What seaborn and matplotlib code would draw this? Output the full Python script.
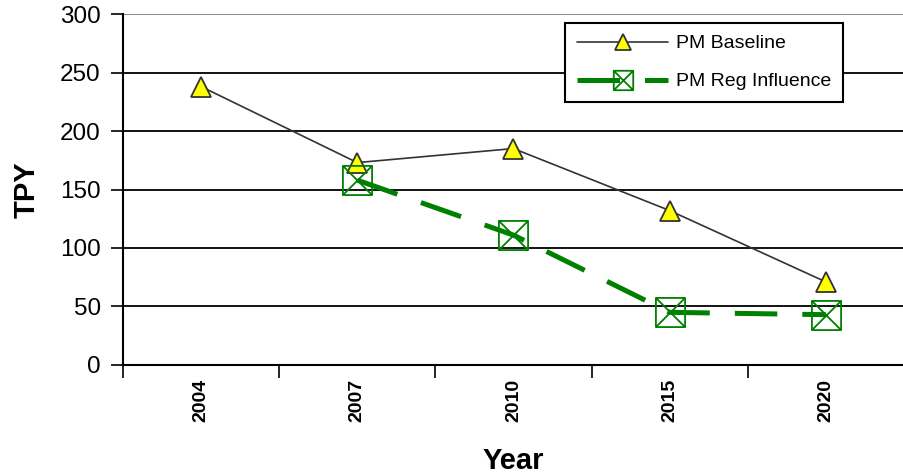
import numpy as np
import pandas as pd
import matplotlib
matplotlib.use("Agg")
import matplotlib.pyplot as plt
import seaborn as sns
from matplotlib.path import Path

years = ["2004", "2007", "2010", "2015", "2020"]
pm_baseline = [238, 173, 185, 132, 71]
reg_years = ["2007", "2010", "2015", "2020"]
pm_reg = [158, 111, 45, 43]

sns.set_style("white")
plt.rcParams['font.family'] = ['Liberation Sans', 'DejaVu Sans']
plt.rcParams['text.color'] = 'black'
plt.rcParams['axes.labelcolor'] = 'black'
plt.rcParams['xtick.color'] = 'black'
plt.rcParams['ytick.color'] = 'black'

# square with an X inside, like the old Excel marker
box_x = Path(
    [(-1, -1), (1, -1), (1, 1), (-1, 1), (-1, -1), (-1, -1), (1, 1), (-1, 1), (1, -1)],
    [Path.MOVETO, Path.LINETO, Path.LINETO, Path.LINETO, Path.CLOSEPOLY,
     Path.MOVETO, Path.LINETO, Path.MOVETO, Path.LINETO],
)

base_df = pd.DataFrame({"year": years, "tpy": pm_baseline})
reg_df = pd.DataFrame({"year": reg_years, "tpy": pm_reg})

fig = plt.figure(figsize=(9.04, 4.75), dpi=100)
ax = fig.add_axes([0.136, 0.2316, 0.864, 0.7389])

sns.lineplot(data=base_df, x="year", y="tpy", ax=ax, sort=False, color="#333333",
             linewidth=1.2, marker="^", markersize=14, markerfacecolor="#ffff00",
             markeredgecolor="#333333", markeredgewidth=1.3, label="PM Baseline")
sns.lineplot(data=reg_df, x="year", y="tpy", ax=ax, sort=False, color="#008000",
             linewidth=3.6, dashes=(8.5, 5), marker=box_x, markersize=21,
             markerfacecolor="none", markeredgecolor="#008000", markeredgewidth=1.3,
             label="PM Reg Influence")

ax.set_xlim(-0.5, 4.46)
ax.set_ylim(0, 300)
ax.set_yticks(range(0, 301, 50))
for y in range(50, 301, 50):
    ax.axhline(y, color="#808080" if y == 300 else "black", linewidth=1.3, zorder=0)

ax.set_xticks(range(len(years)))
ax.set_xticklabels(years, rotation=90, fontweight="bold", fontsize=14)
ax.set_xticks(np.arange(-0.5, len(years), 1), minor=True)
ax.tick_params(axis="x", which="major", length=0, pad=10)
ax.tick_params(axis="x", which="minor", length=9, width=1.2, direction="out", color="black")
ax.tick_params(axis="y", length=9, width=1.2, direction="out", color="black",
               labelsize=17.5, pad=7)
ax.tick_params(axis="both", bottom=True, left=True)
ax.xaxis.set_tick_params(which="minor", bottom=True)

for side in ["top", "right"]:
    ax.spines[side].set_visible(False)
for side in ["left", "bottom"]:
    ax.spines[side].set_color("black")
    ax.spines[side].set_linewidth(1.5)

ax.set_xlabel("Year", fontsize=21, fontweight="bold", labelpad=18)
ax.set_ylabel("TPY", fontsize=21, fontweight="bold", labelpad=14)

leg = ax.legend(loc="upper right", bbox_to_anchor=(0.922, 0.974), fontsize=14,
                frameon=True, fancybox=False, handlelength=4.7, borderpad=0.6,
                labelspacing=1.05, handletextpad=0.4, borderaxespad=0)
leg.get_frame().set_edgecolor("black")
leg.get_frame().set_linewidth(1.5)
leg.get_frame().set_facecolor("white")
leg.get_frame().set_alpha(1)
for h in leg.legend_handles:
    if h.get_label() == "PM Reg Influence":
        h.set_markersize(14)
    else:
        h.set_markersize(12)

fig.savefig("out.png", dpi=100)
